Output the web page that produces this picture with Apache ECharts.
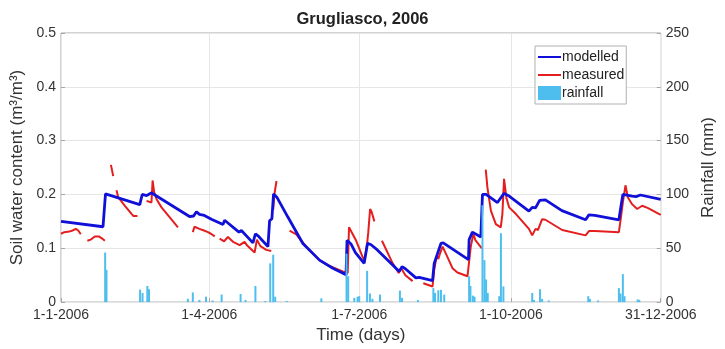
<!DOCTYPE html>
<html>
<head>
<meta charset="utf-8">
<script src="https://cdn.jsdelivr.net/npm/echarts@6/dist/echarts.min.js"></script>
<style>
  html, body { margin: 0; padding: 0; background: #fff; }
  #chart { width: 725px; height: 349px; }
</style>
</head>
<body>
<div id="chart"></div>
<script>
// day of year (0 = 1-1-2006)
const tickDays = [0, 90, 181, 273, 364];
const tickLabels = ['1-1-2006', '1-4-2006', '1-7-2006', '1-10-2006', '31-12-2006'];

// modelled soil water content (m3/m3)
const modelledDays = [0, 25.5, 27, 47.8, 49.3, 52, 55, 57, 78, 80.5, 82.2, 84, 87, 91.3, 98.3, 99.3,
  108, 109.5, 116.5, 118, 120, 125.6, 126.6, 128, 129, 131, 137.7, 146.8, 156.9, 165, 173, 173.6,
  176, 178.7, 184, 186, 188, 192, 205.3, 207, 209, 215.4, 217.4, 225.5, 226.5, 228.5, 230.6, 232,
  247.3, 247.7, 249.7, 254.8, 255.8, 258, 264.9, 268.9, 272, 284, 286, 288, 290.5, 294, 304, 318.4,
  320.4, 324, 338.6, 339.6, 341, 346.6, 349, 351.7, 364];
const modelledSWC = [0.150, 0.140, 0.201, 0.181, 0.200, 0.198, 0.203, 0.199, 0.159, 0.160, 0.168, 0.163, 0.161, 0.154, 0.144, 0.152,
  0.130, 0.133, 0.110, 0.127, 0.122, 0.103, 0.151, 0.155, 0.201, 0.195, 0.158, 0.109, 0.078, 0.063, 0.051, 0.115,
  0.108, 0.092, 0.072, 0.109, 0.107, 0.097, 0.057, 0.066, 0.062, 0.045, 0.046, 0.040, 0.072, 0.090, 0.109, 0.110,
  0.079, 0.116, 0.130, 0.121, 0.200, 0.200, 0.185, 0.202, 0.197, 0.169, 0.176, 0.175, 0.189, 0.190, 0.170, 0.153,
  0.162, 0.161, 0.153, 0.173, 0.200, 0.197, 0.196, 0.199, 0.191];

// measured soil water content, null marks a gap in the record
const measuredDays = [0, 2, 5, 7, 9, 10.5, 12, 14,
  16, 18, 20.5, 23, 25, 26.6, 28,
  30.3, 31.7, 32.5,
  33.7, 34.7, 38.8, 42.8, 44, 46.4, 48,
  51.9, 54.9, 55.6, 56.5, 58, 61, 65, 71, 75,
  80, 81, 82.2, 84, 86, 89.2, 91, 93.3, 95,
  96.3, 99, 101.3, 104.4, 108.4, 111.4, 113, 117.5, 118.9, 121, 124.6, 127.6, 128.2,
  128.8, 129.5, 130.8, 134,
  138.7, 142.8, 148.8, 156.9, 162.9, 171, 174, 174.8, 176, 179, 183, 184.2, 185.5, 186.5, 187.6, 188.5, 190.2, 192,
  194.8, 201.3, 205, 206.3, 207.5, 209, 213.4, 216,
  219.9, 225.5, 226.5, 228, 229, 230, 231.6, 233.6, 237.6, 240.6, 246.7, 247.5, 248.7, 250.3, 251.5, 255.4, 256.5,
  257.8, 258.8, 260.9, 263.9, 266.9, 267.9, 268.9, 270.3, 272, 276, 284, 286, 288, 289.5, 292, 294, 304.2, 318.4,
  320.4, 324, 338.6, 339.6, 341, 342.6, 344, 346.6, 349.7, 352.7, 356, 364];
const measuredSWC = [0.127, 0.130, 0.131, 0.133, 0.136, 0.133, 0.126, null,
  0.114, 0.116, 0.122, 0.122, 0.118, 0.114, null,
  0.255, 0.234, null,
  0.208, 0.195, 0.179, 0.164, 0.160, 0.160, null,
  0.188, 0.185, 0.226, 0.205, 0.191, 0.176, 0.161, 0.139, null,
  0.130, 0.140, 0.142, 0.136, 0.134, 0.130, 0.127, 0.122, null,
  0.118, 0.113, 0.121, 0.112, 0.106, 0.112, 0.105, 0.092, 0.116, 0.104, 0.097, 0.095, null,
  0.172, 0.200, 0.225, null,
  0.133, 0.126, 0.103, 0.078, 0.067, 0.057, 0.054, 0.139, 0.136, 0.115, 0.084, 0.078, 0.100, 0.130, 0.173, 0.168, 0.150, null,
  0.114, 0.072, 0.054, 0.063, 0.058, 0.050, 0.039, null,
  0.035, 0.029, 0.060, 0.085, 0.080, 0.090, 0.103, 0.090, 0.063, 0.055, 0.048, 0.050, 0.103, 0.127, 0.115, 0.100, null,
  0.246, 0.213, 0.170, 0.145, 0.139, 0.164, 0.229, 0.194, 0.176, 0.164, 0.136, 0.124, 0.136, 0.134, 0.154, 0.153, 0.134, 0.124,
  0.132, 0.132, 0.130, 0.152, 0.185, 0.217, 0.195, 0.182, 0.173, 0.179, 0.175, 0.162];

// daily rainfall (mm)
const rainDays = [26.8, 27.6, 48, 49.5, 52.4, 53.4, 77, 80, 84, 88, 92, 97.5, 109, 112, 118, 124, 127, 128.8, 130,
  137, 158, 173.3, 174.3, 178, 180, 181, 185.8, 187.5, 189, 193.6, 205.7, 207, 216.6,
  226, 227, 229, 230.6, 232.6, 247.7, 248.5, 250, 251, 255.8, 257, 258, 259, 266, 267, 268.5,
  286, 287, 290.7, 292, 296, 320, 321, 326, 338.6, 339.6, 341, 342, 350, 351];
const rainMM = [46, 30, 11.6, 8.5, 15, 12, 3, 9, 2, 5, 1.5, 7, 7.5, 2, 15, 1, 36, 44, 5,
  1, 3.5, 45, 24, 4, 5, 5.5, 29, 8, 3, 7, 10.7, 4, 2,
  13, 8.5, 11, 11.4, 7, 24, 15, 6, 5, 90, 39, 21, 8.5, 5.5, 64, 14.6,
  8.5, 2, 12, 3, 1.5, 5.5, 3, 1.5, 13, 8, 26, 5.5, 2.5, 2];

const font = 'Liberation Sans';
const textColor = '#333';
const blue = '#1010d8';
const red = '#e41e1e';
const pair = (xs, ys) => xs.map((d, i) => [d, ys[i] === null ? '-' : ys[i]]);

const chart = echarts.init(document.getElementById('chart'));
chart.setOption({
    animation: false,
    textStyle: { fontFamily: font },
    title: {
        text: 'Grugliasco, 2006',
        left: 'center',
        top: 6,
        textStyle: { fontFamily: font, fontSize: 16.5, fontWeight: 'bold', color: '#222' }
    },
    grid: {
        left: 61, right: 63, top: 33, bottom: 43,
        show: true, borderColor: '#a6a6a6', borderWidth: 1
    },
    legend: {
        orient: 'vertical',
        left: 535,
        top: 46,
        padding: [4, 2, 4, 2],
        itemWidth: 23,
        itemHeight: 14,
        itemGap: 4,
        borderColor: '#b0b0b0',
        borderWidth: 1,
        backgroundColor: '#fff',
        textStyle: { fontFamily: font, fontSize: 14, color: '#222', padding: [0, 0, 0, -4] },
        data: [
            { name: 'modelled', itemStyle: { opacity: 0 } },
            { name: 'measured', itemStyle: { opacity: 0 } },
            { name: 'rainfall', icon: 'rect' }
        ]
    },
    xAxis: {
        type: 'value',
        min: 0,
        max: 364,
        name: 'Time (days)',
        nameLocation: 'middle',
        nameGap: 22,
        nameTextStyle: { fontFamily: font, fontSize: 17, color: textColor },
        axisLine: { show: false },
        axisTick: { inside: true, length: 4, customValues: tickDays, lineStyle: { color: '#a6a6a6' } },
        axisLabel: {
            customValues: tickDays,
            fontSize: 14,
            color: textColor,
            margin: 6,
            formatter: v => tickLabels[tickDays.indexOf(v)] || ''
        },
        splitLine: { show: true, lineStyle: { color: '#e6e6e6' } }
    },
    yAxis: [
        {
            type: 'value',
            min: 0,
            max: 0.5,
            interval: 0.1,
            name: 'Soil water content (m³/m³)',
            nameLocation: 'middle',
            nameRotate: 90,
            nameGap: 26,
            nameTextStyle: { fontFamily: font, fontSize: 17, color: textColor },
            axisLine: { show: false },
            axisTick: { show: true, inside: true, length: 4, lineStyle: { color: '#a6a6a6' } },
            axisLabel: { fontSize: 14, color: textColor, margin: 5 },
            splitLine: { show: true, lineStyle: { color: '#e6e6e6' } }
        },
        {
            type: 'value',
            min: 0,
            max: 250,
            interval: 50,
            name: 'Rainfall (mm)',
            nameLocation: 'middle',
            nameRotate: 90,
            nameGap: 36,
            nameTextStyle: { fontFamily: font, fontSize: 17, color: textColor },
            axisLine: { show: false },
            axisTick: { show: true, inside: true, length: 4, lineStyle: { color: '#a6a6a6' } },
            axisLabel: { fontSize: 14, color: textColor, margin: 5 },
            splitLine: { show: false }
        }
    ],
    series: [
        {
            name: 'modelled',
            type: 'line',
            yAxisIndex: 0,
            symbol: 'none',
            z: 3,
            lineStyle: { color: blue, width: 2.8 },
            itemStyle: { color: blue },
            data: pair(modelledDays, modelledSWC)
        },
        {
            name: 'measured',
            type: 'line',
            yAxisIndex: 0,
            symbol: 'none',
            connectNulls: false,
            z: 2,
            lineStyle: { color: red, width: 2 },
            itemStyle: { color: red },
            data: pair(measuredDays, measuredSWC)
        },
        {
            name: 'rainfall',
            type: 'bar',
            yAxisIndex: 1,
            barWidth: 2,
            z: 4,
            itemStyle: { color: '#4dbeee' },
            data: pair(rainDays, rainMM)
        }
    ]
});
</script>
</body>
</html>
